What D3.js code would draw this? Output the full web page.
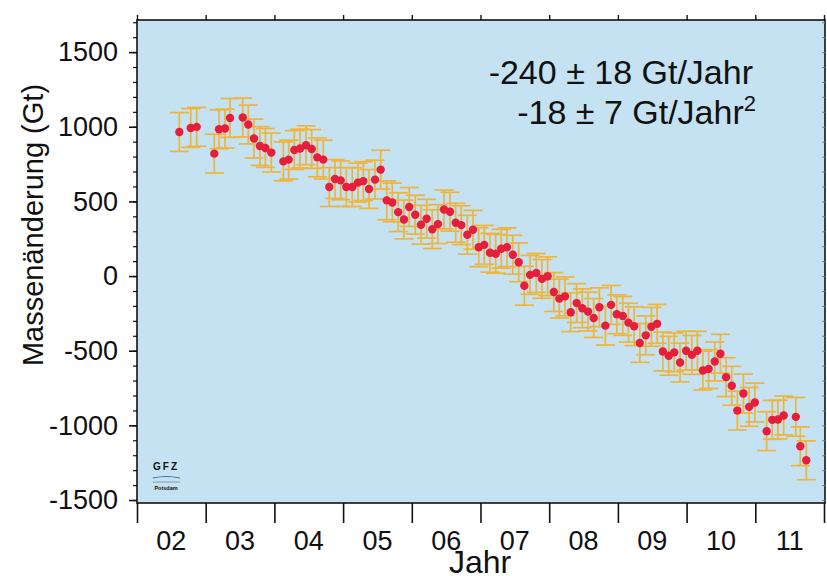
<!DOCTYPE html>
<html>
<head>
<meta charset="utf-8">
<script src="https://cdn.jsdelivr.net/npm/d3@7"></script>
<style>
  html, body { margin: 0; padding: 0; background: #ffffff; }
  svg { display: block; }
  text { font-family: "Liberation Sans", Arial, Helvetica, sans-serif; fill: #111; }
</style>
</head>
<body>
<svg id="chart" width="827" height="576"></svg>
<script>
// ---- data ----
const years = [
  2002.616, 2002.782, 2002.869, 2003.125, 2003.194, 2003.281, 2003.354, 2003.539, 2003.620, 2003.703,
  2003.790, 2003.868, 2003.955, 2004.130, 2004.208, 2004.290, 2004.373, 2004.460, 2004.543, 2004.625,
  2004.712, 2004.799, 2004.882, 2004.965, 2005.047, 2005.134, 2005.217, 2005.294, 2005.377, 2005.464,
  2005.547, 2005.635, 2005.716, 2005.802, 2005.886, 2005.963, 2006.050, 2006.134, 2006.216, 2006.298,
  2006.381, 2006.469, 2006.556, 2006.639, 2006.720, 2006.808, 2006.891, 2006.974, 2007.054, 2007.138,
  2007.221, 2007.302, 2007.385, 2007.470, 2007.556, 2007.638, 2007.721, 2007.812, 2007.895, 2007.978,
  2008.067, 2008.147, 2008.230, 2008.313, 2008.400, 2008.482, 2008.565, 2008.648, 2008.730, 2008.818,
  2008.901, 2008.984, 2009.071, 2009.153, 2009.236, 2009.319, 2009.406, 2009.488, 2009.571, 2009.654,
  2009.740, 2009.820, 2009.905, 2009.993, 2010.077, 2010.157, 2010.237, 2010.320, 2010.410, 2010.492,
  2010.575, 2010.658, 2010.739, 2010.827, 2010.910, 2010.993, 2011.165, 2011.247, 2011.330, 2011.413,
  2011.590, 2011.655, 2011.742
];
const massChange = [
  965, 992, 999, 820, 983, 988, 1059, 1062, 1015, 921,
  871, 858, 827, 768, 780, 844, 854, 876, 851, 795,
  780, 596, 650, 641, 596, 596, 626, 636, 583, 646,
  713, 507, 493, 428, 379, 463, 411, 344, 384, 314,
  348, 446, 431, 357, 341, 277, 310, 193, 209, 156,
  149, 183, 193, 143, 92, -65, 8, 21, -19, -1,
  -107, -151, -136, -242, -181, -216, -238, -281, -209, -332,
  -193, -256, -267, -312, -336, -448, -397, -340, -320, -505,
  -534, -511, -579, -500, -528, -500, -633, -623, -572, -520,
  -677, -735, -901, -787, -876, -847, -1039, -963, -961, -934,
  -943, -1140, -1234
];
const errorGt = 130;                       // +/- error of each monthly value
const yearTicks = [2002, 2003, 2004, 2005, 2006, 2007, 2008, 2009, 2010, 2011, 2012];
const yearLabels = ["02", "03", "04", "05", "06", "07", "08", "09", "10", "11"];
const yMajorTicks = [-1500, -1000, -500, 0, 500, 1000, 1500];
const yMinorTicks = d3.range(-1500, 1701, 100);
const trendLines = ["-240 \u00B1 18 Gt/Jahr", "-18 \u00B1 7 Gt/Jahr"];

// ---- layout ----
const svg = d3.select("#chart");
const pLeft = 137, pRight = 825, pTop = 20, pBottom = 503;

const x = d3.scaleLinear().domain([2002, 2012]).range([pLeft, pRight - 1]);
const y = d3.scaleLinear().domain([-1520, 1715]).range([pBottom, pTop]);

// background panel
svg.append("rect")
  .attr("x", pLeft).attr("y", pTop)
  .attr("width", pRight - pLeft).attr("height", pBottom - pTop)
  .attr("fill", "#c4e2f2");

// error bars
const eb = svg.append("g").attr("stroke", "#efb43c").attr("stroke-width", 1.7).attr("fill", "none");
const capW = 9.5;
years.forEach((yr, i) => {
  const cx = x(yr), v = massChange[i];
  const y1 = y(v + errorGt), y2 = y(v - errorGt);
  eb.append("line").attr("x1", cx).attr("x2", cx).attr("y1", y1).attr("y2", y2);
  eb.append("line").attr("x1", cx - capW).attr("x2", cx + capW).attr("y1", y1).attr("y2", y1);
  eb.append("line").attr("x1", cx - capW).attr("x2", cx + capW).attr("y1", y2).attr("y2", y2);
});

// points
svg.append("g").selectAll("circle")
  .data(years.map((yr, i) => [yr, massChange[i]]))
  .join("circle")
  .attr("cx", d => x(d[0])).attr("cy", d => y(d[1]))
  .attr("r", 4.2).attr("fill", "#e61e3c");

// frame
svg.append("rect")
  .attr("x", pLeft).attr("y", pTop)
  .attr("width", pRight - pLeft).attr("height", pBottom - pTop)
  .attr("fill", "none").attr("stroke", "#111").attr("stroke-width", 1.6);

// bottom axis (ticks at year boundaries, labels centred in each year)
const bx = svg.append("g").attr("transform", `translate(0,${pBottom})`)
  .call(d3.axisBottom(x).tickValues(yearTicks).tickFormat("").tickSize(20).tickSizeOuter(0));
bx.select(".domain").remove();
bx.selectAll(".tick line").attr("stroke", "#111").attr("stroke-width", 1.6);
svg.append("g").selectAll("text")
  .data(yearLabels)
  .join("text")
  .attr("x", (d, i) => x(yearTicks[i] + 0.5))
  .attr("y", 550)
  .attr("text-anchor", "middle")
  .attr("font-size", 27)
  .text(d => d);

// top axis
const tx = svg.append("g").attr("transform", `translate(0,${pTop})`)
  .call(d3.axisTop(x).tickValues(yearTicks).tickFormat("").tickSize(5).tickSizeOuter(0));
tx.select(".domain").remove();
tx.selectAll(".tick line").attr("stroke", "#111").attr("stroke-width", 1.4);

// left axis: minor ticks
const lyMinor = svg.append("g").attr("transform", `translate(${pLeft},0)`)
  .call(d3.axisLeft(y).tickValues(yMinorTicks).tickFormat("").tickSize(4).tickSizeOuter(0));
lyMinor.select(".domain").remove();
lyMinor.selectAll(".tick line").attr("stroke", "#111").attr("stroke-width", 1.2);

// left axis: major ticks with labels (plain hyphen minus, as in the reference)
const ly = svg.append("g").attr("transform", `translate(${pLeft},0)`)
  .call(d3.axisLeft(y).tickValues(yMajorTicks).tickFormat(d => String(d)).tickSize(8).tickPadding(11).tickSizeOuter(0));
ly.select(".domain").remove();
ly.selectAll(".tick line").attr("stroke", "#111").attr("stroke-width", 1.6);
ly.selectAll(".tick text")
  .attr("font-size", 27)
  .attr("font-family", "'Liberation Sans', Arial, sans-serif")
  .attr("fill", "#111");

// right axis: small inward ticks
const ry = svg.append("g").attr("transform", `translate(${pRight},0)`)
  .call(d3.axisRight(y).tickValues(yMinorTicks).tickFormat("").tickSize(-3).tickSizeOuter(0));
ry.select(".domain").remove();
ry.selectAll(".tick line").attr("stroke", "#6d8797").attr("stroke-width", 1);

// axis titles
svg.append("text")
  .attr("transform", "translate(43,225) rotate(-90)")
  .attr("text-anchor", "middle")
  .attr("font-size", 29)
  .text("Massen\u00E4nderung (Gt)");

svg.append("text")
  .attr("x", 480).attr("y", 573)
  .attr("text-anchor", "middle")
  .attr("font-size", 32)
  .text("Jahr");

// trend annotation
svg.append("text")
  .attr("x", 753).attr("y", 84)
  .attr("text-anchor", "end")
  .attr("font-size", 34)
  .text(trendLines[0]);
const t2 = svg.append("text")
  .attr("x", 756).attr("y", 124)
  .attr("text-anchor", "end")
  .attr("font-size", 34);
t2.append("tspan").text(trendLines[1]);
t2.append("tspan").attr("font-size", 22).attr("dy", -13).text("2");

// GFZ logo
const logo = svg.append("g");
logo.append("text").attr("x", 166).attr("y", 470).attr("text-anchor", "middle")
  .attr("font-size", 10).attr("font-weight", "bold").attr("letter-spacing", 2).attr("fill", "#222").text("GFZ");
logo.append("path").attr("d", "M153,478 Q166,475 180,478").attr("stroke", "#3a6fb0").attr("stroke-width", 1.2).attr("fill", "none");
logo.append("line").attr("x1", 153).attr("x2", 180).attr("y1", 482).attr("y2", 482).attr("stroke", "#667").attr("stroke-width", 0.6);
logo.append("text").attr("x", 166).attr("y", 490).attr("text-anchor", "middle")
  .attr("font-size", 5.5).attr("font-weight", "bold").attr("fill", "#333").text("Potsdam");
</script>
</body>
</html>
